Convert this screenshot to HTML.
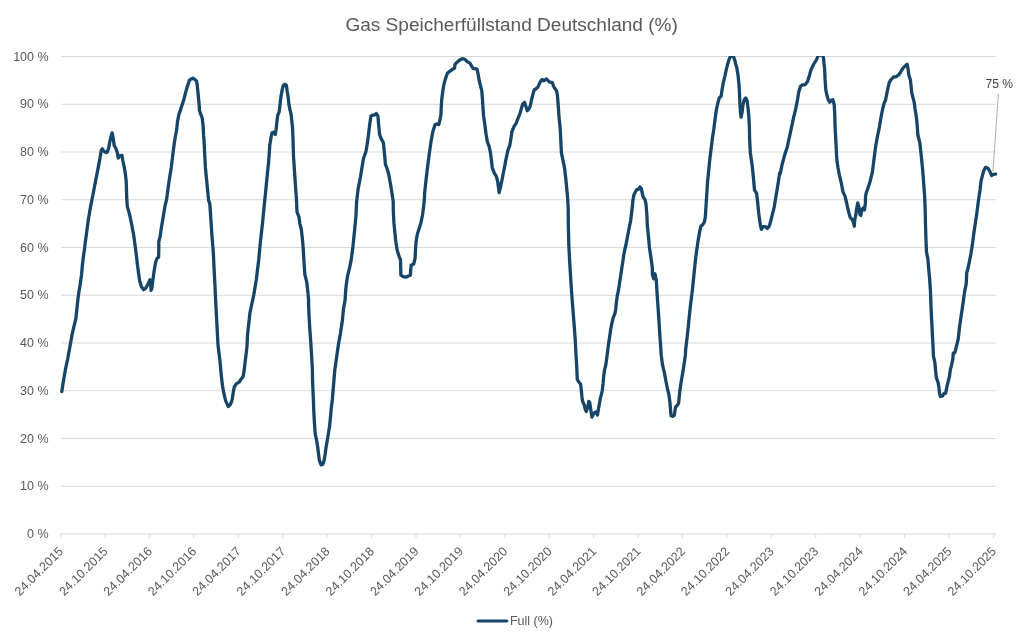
<!DOCTYPE html>
<html><head><meta charset="utf-8"><style>
html,body{margin:0;padding:0;background:#fff;}
svg{display:block;font-family:"Liberation Sans",sans-serif;will-change:transform;}
</style></head><body>
<svg width="1024" height="643" viewBox="0 0 1024 643">
<rect width="1024" height="643" fill="#fff"/>
<text x="345.4" y="31.1" font-size="18.7" textLength="332.5" lengthAdjust="spacingAndGlyphs" fill="#595959">Gas Speicherfüllstand Deutschland (%)</text>
<g shape-rendering="auto">
<line x1="61" y1="56.50" x2="996" y2="56.50" stroke="#d9d9d9" stroke-width="1"/>
<line x1="61" y1="104.25" x2="996" y2="104.25" stroke="#d9d9d9" stroke-width="1"/>
<line x1="61" y1="152.00" x2="996" y2="152.00" stroke="#d9d9d9" stroke-width="1"/>
<line x1="61" y1="199.75" x2="996" y2="199.75" stroke="#d9d9d9" stroke-width="1"/>
<line x1="61" y1="247.50" x2="996" y2="247.50" stroke="#d9d9d9" stroke-width="1"/>
<line x1="61" y1="295.25" x2="996" y2="295.25" stroke="#d9d9d9" stroke-width="1"/>
<line x1="61" y1="343.00" x2="996" y2="343.00" stroke="#d9d9d9" stroke-width="1"/>
<line x1="61" y1="390.75" x2="996" y2="390.75" stroke="#d9d9d9" stroke-width="1"/>
<line x1="61" y1="438.50" x2="996" y2="438.50" stroke="#d9d9d9" stroke-width="1"/>
<line x1="61" y1="486.25" x2="996" y2="486.25" stroke="#d9d9d9" stroke-width="1"/>
<line x1="60.6" y1="534" x2="996" y2="534" stroke="#d9d9d9" stroke-width="1"/>
<line x1="60.60" y1="534" x2="60.60" y2="538" stroke="#d9d9d9" stroke-width="1"/>
<line x1="105.02" y1="534" x2="105.02" y2="538" stroke="#d9d9d9" stroke-width="1"/>
<line x1="149.45" y1="534" x2="149.45" y2="538" stroke="#d9d9d9" stroke-width="1"/>
<line x1="193.87" y1="534" x2="193.87" y2="538" stroke="#d9d9d9" stroke-width="1"/>
<line x1="238.30" y1="534" x2="238.30" y2="538" stroke="#d9d9d9" stroke-width="1"/>
<line x1="282.72" y1="534" x2="282.72" y2="538" stroke="#d9d9d9" stroke-width="1"/>
<line x1="327.14" y1="534" x2="327.14" y2="538" stroke="#d9d9d9" stroke-width="1"/>
<line x1="371.57" y1="534" x2="371.57" y2="538" stroke="#d9d9d9" stroke-width="1"/>
<line x1="415.99" y1="534" x2="415.99" y2="538" stroke="#d9d9d9" stroke-width="1"/>
<line x1="460.41" y1="534" x2="460.41" y2="538" stroke="#d9d9d9" stroke-width="1"/>
<line x1="504.84" y1="534" x2="504.84" y2="538" stroke="#d9d9d9" stroke-width="1"/>
<line x1="549.26" y1="534" x2="549.26" y2="538" stroke="#d9d9d9" stroke-width="1"/>
<line x1="593.69" y1="534" x2="593.69" y2="538" stroke="#d9d9d9" stroke-width="1"/>
<line x1="638.11" y1="534" x2="638.11" y2="538" stroke="#d9d9d9" stroke-width="1"/>
<line x1="682.53" y1="534" x2="682.53" y2="538" stroke="#d9d9d9" stroke-width="1"/>
<line x1="726.96" y1="534" x2="726.96" y2="538" stroke="#d9d9d9" stroke-width="1"/>
<line x1="771.38" y1="534" x2="771.38" y2="538" stroke="#d9d9d9" stroke-width="1"/>
<line x1="815.80" y1="534" x2="815.80" y2="538" stroke="#d9d9d9" stroke-width="1"/>
<line x1="860.23" y1="534" x2="860.23" y2="538" stroke="#d9d9d9" stroke-width="1"/>
<line x1="904.65" y1="534" x2="904.65" y2="538" stroke="#d9d9d9" stroke-width="1"/>
<line x1="949.08" y1="534" x2="949.08" y2="538" stroke="#d9d9d9" stroke-width="1"/>
<line x1="993.50" y1="534" x2="993.50" y2="538" stroke="#d9d9d9" stroke-width="1"/>
</g>
<g font-size="12.5" fill="#595959">
<text x="48.6" y="60.50" text-anchor="end">100 %</text>
<text x="48.6" y="108.25" text-anchor="end">90 %</text>
<text x="48.6" y="156.00" text-anchor="end">80 %</text>
<text x="48.6" y="203.75" text-anchor="end">70 %</text>
<text x="48.6" y="251.50" text-anchor="end">60 %</text>
<text x="48.6" y="299.25" text-anchor="end">50 %</text>
<text x="48.6" y="347.00" text-anchor="end">40 %</text>
<text x="48.6" y="394.75" text-anchor="end">30 %</text>
<text x="48.6" y="442.50" text-anchor="end">20 %</text>
<text x="48.6" y="490.25" text-anchor="end">10 %</text>
<text x="48.6" y="538.00" text-anchor="end">0 %</text>
</g>
<g font-size="12.5" fill="#595959">
<text x="64.00" y="552.20" text-anchor="end" transform="rotate(-45 64.00 552.20)">24.04.2015</text>
<text x="108.42" y="552.20" text-anchor="end" transform="rotate(-45 108.42 552.20)">24.10.2015</text>
<text x="152.85" y="552.20" text-anchor="end" transform="rotate(-45 152.85 552.20)">24.04.2016</text>
<text x="197.27" y="552.20" text-anchor="end" transform="rotate(-45 197.27 552.20)">24.10.2016</text>
<text x="241.70" y="552.20" text-anchor="end" transform="rotate(-45 241.70 552.20)">24.04.2017</text>
<text x="286.12" y="552.20" text-anchor="end" transform="rotate(-45 286.12 552.20)">24.10.2017</text>
<text x="330.54" y="552.20" text-anchor="end" transform="rotate(-45 330.54 552.20)">24.04.2018</text>
<text x="374.97" y="552.20" text-anchor="end" transform="rotate(-45 374.97 552.20)">24.10.2018</text>
<text x="419.39" y="552.20" text-anchor="end" transform="rotate(-45 419.39 552.20)">24.04.2019</text>
<text x="463.81" y="552.20" text-anchor="end" transform="rotate(-45 463.81 552.20)">24.10.2019</text>
<text x="508.24" y="552.20" text-anchor="end" transform="rotate(-45 508.24 552.20)">24.04.2020</text>
<text x="552.66" y="552.20" text-anchor="end" transform="rotate(-45 552.66 552.20)">24.10.2020</text>
<text x="597.09" y="552.20" text-anchor="end" transform="rotate(-45 597.09 552.20)">24.04.2021</text>
<text x="641.51" y="552.20" text-anchor="end" transform="rotate(-45 641.51 552.20)">24.10.2021</text>
<text x="685.93" y="552.20" text-anchor="end" transform="rotate(-45 685.93 552.20)">24.04.2022</text>
<text x="730.36" y="552.20" text-anchor="end" transform="rotate(-45 730.36 552.20)">24.10.2022</text>
<text x="774.78" y="552.20" text-anchor="end" transform="rotate(-45 774.78 552.20)">24.04.2023</text>
<text x="819.20" y="552.20" text-anchor="end" transform="rotate(-45 819.20 552.20)">24.10.2023</text>
<text x="863.63" y="552.20" text-anchor="end" transform="rotate(-45 863.63 552.20)">24.04.2024</text>
<text x="908.05" y="552.20" text-anchor="end" transform="rotate(-45 908.05 552.20)">24.10.2024</text>
<text x="952.48" y="552.20" text-anchor="end" transform="rotate(-45 952.48 552.20)">24.04.2025</text>
<text x="996.90" y="552.20" text-anchor="end" transform="rotate(-45 996.90 552.20)">24.10.2025</text>
</g>
<defs><clipPath id="pa"><rect x="0" y="56" width="1024" height="587"/></clipPath></defs>
<polyline clip-path="url(#pa)" points="61.8,391.6 63.5,380.5 65.6,368.5 67.8,358.3 70,346.3 72.1,334.4 74.1,325.9 75.8,319 76.9,308.8 78,298.5 78.9,292 79.7,287.4 80.6,281.2 81.5,275 82.6,263 83.8,253.7 84.7,247.4 85.4,241.2 86.3,235 87.3,227.5 88.3,219.9 90.4,207.4 92.9,195 95,184 96.7,175.4 98.5,166.1 99.9,158.6 101.3,150.2 102.3,148.8 103.7,151.1 106,152.5 107.4,152.1 108.8,147.4 109.7,142.3 111.1,136.2 112.1,132.9 113,137.1 114.2,145.5 115.8,148.3 117.2,152.1 118.3,158.1 119.5,155.8 121.9,155.3 122.8,160.5 124.2,167 125.4,174 126.2,181.4 126.5,190 126.7,197.7 127.3,206.4 129.5,214.1 131.6,224 133.1,232 133.8,236 135,244.8 136.2,254.1 137.3,263.5 138.5,272.8 139.7,281 141.4,286.8 143.7,289.7 145.5,288.5 147.8,284.5 149.9,279.8 150.7,285.6 151.1,290.3 151.9,288 153.1,278.6 154.2,270.5 155.6,262.3 157.1,258.2 158.6,257.3 158.8,250 158.8,241.5 160.1,236.7 161,230.1 163.1,217.6 165.1,205.5 166.6,199.4 168.1,188.3 169.7,177.1 171.2,168 172,161.1 173.2,151.8 174.4,142.4 175.4,136.2 176.6,130 177.6,120.8 179,114.2 180.9,108.6 184,98.9 185.4,93.4 186.7,88.5 188.3,83.6 189.4,80.3 191.1,79 192.8,78.2 194.6,79.3 196.5,80.9 197.1,84.2 197.6,89.1 198.2,94.5 198.7,100 199.2,105 199.4,110.3 200.5,113.6 202.2,118 203.2,126.7 203.6,135.4 204,140 205.4,167.7 207,184 208.6,200.4 209.8,203.6 210.7,216.7 211.9,235 213.3,252.1 214.1,269.2 215,286.4 215.8,303.5 216.7,320.6 217.6,337.7 218,345 218.8,351.5 219.8,359.2 220.5,366.8 221.3,375.5 222.4,385.3 223.8,393 225.6,400.6 228.3,406.6 230.5,404.4 232.2,399.5 233.3,391.9 234.3,387 236.5,383.7 239.2,382.1 240.9,379.3 243.1,376.6 244.2,370.1 245.2,361.3 246.3,352.6 247.1,345 247.5,335 250,312.5 253.75,295 256.25,280 258.7,260 260.5,240.9 262.6,222.2 264.1,206.7 265.7,191.1 267.2,175.6 268.8,160 269.8,145.1 270.9,138.2 272,132.8 273.6,132.2 275.3,134.4 276.1,129.5 276.9,121.9 277.7,115.3 279.1,112.1 279.8,106.6 280.5,100.1 281.3,94.6 282.3,89.2 283.4,85.4 284.9,84.3 286.4,85.4 287.2,91.3 288.1,96.8 288.9,104.4 290,109.9 291.1,114.2 291.8,120.8 292.5,127.3 292.9,136 293.2,145.1 293.5,156.3 294.6,172.7 295.7,189 296.5,200 297,212 299,217.1 299.8,223.3 301.3,229.5 302.4,238.9 303.2,248.2 304,262.2 304.9,274.6 306.8,282.4 308,293.3 308.6,300 308.5,302.4 309,314.9 309.7,327.3 310.6,339.8 311.4,352.2 312.4,370 312.5,380 313.4,400 313.8,411.2 314.4,422.4 315.2,433.6 316.6,440.3 317.7,447 318.5,453.7 319.4,460.4 321.1,464.9 322.8,464.3 324.1,460.4 325.2,453.7 326.1,447 327.3,440.3 328.4,433.6 329.5,426.8 330.4,417.9 331.2,408.9 332.3,400 332.5,397.5 333.75,382.5 334.8,370 336.1,360.9 337.3,352.2 338.6,343.5 340.4,333.5 342.3,321.1 343.5,308.7 345.1,300 345.7,290 346.2,285.6 347.5,276.3 349.8,266.9 351.3,259.1 352.9,246.7 354.5,231.1 356,215.6 356.6,201.6 358.1,189.1 360.5,176.7 362,167.3 363.6,158 365.9,151.7 367.5,142.4 368.7,133 369.8,123.7 371,115.9 372.9,115.1 374.5,115.1 376.3,113.6 377.9,115.9 378.7,125.2 379.6,134.6 381.5,139.3 383.3,142.4 384.3,151.7 385.4,164.2 386.9,168.1 388.5,173.5 390,181.3 391.6,190.7 393.2,201.6 393.3,210.6 393.9,222.4 394.9,233 395.9,242.2 397.2,250.2 399.2,256.8 400.5,259.4 400.7,268.6 400.9,275.2 403.2,276.6 405.8,277.2 407.8,276.3 410.4,275.2 410.7,270 411.1,265.3 413.7,264 415.1,258.1 415.5,250.2 416,242.2 417.3,234.3 419,229 421,222.4 422.6,214.5 423.6,206.6 424.3,200 424.7,192.2 426.2,178.5 427.7,166 429.3,153.6 430.9,142.4 432.4,133.7 433.7,128.7 435.1,124.6 436.7,124 438.8,124.6 440,119.7 440.9,114.7 441.3,106 441.7,99.8 442.5,93.5 443.4,87.3 444.4,82.3 445.9,77.4 447.5,73 450,71.1 452.5,69.3 454.6,68 455,64.3 456.8,62.4 458.7,60.8 460.6,59.4 463,58.7 464.9,59.3 467.2,61.6 469.9,63.2 471.5,65.9 473.2,68.6 475.3,68.6 477,69.1 478,73.5 479.1,80 480.4,85.4 481.8,90.9 482.4,98.5 482.9,107.2 483.6,116 484.6,123 486.1,134.2 487.3,141.7 489.2,146.6 490.5,152.9 491.4,160.3 492.3,167.8 494.2,172.8 496.4,176.5 497.7,181.5 498.5,187.7 499.2,192.7 500.4,187.7 501.7,181.5 502.9,175.3 504.4,167.8 506,159.1 507.9,150.4 509.8,145.4 511,137.9 511.9,131.7 512.6,130 514.2,126.2 516.1,123.4 517.9,118.7 519.8,114 521.7,107.5 522.6,104.2 524.5,102.3 525.9,106.5 527.3,110.7 528.7,109.3 530.1,106.5 531.5,100 532.9,94.4 534.3,89.7 536.1,88.8 538,86.9 539.4,83.7 540.8,80.9 542.2,79.5 543.6,80.9 545,79.9 546.4,79 547.8,80.4 549.2,81.8 551.1,82.3 552.5,82.7 553.4,86 554.8,88.3 556.2,90.2 557.2,93.5 557.8,100 558.4,107.5 559,116.8 559.8,124.3 560.3,130 560.8,140.5 561.4,152.9 563,160.4 564.5,167.9 565.7,177.8 566.7,187.8 567.6,197.7 568.2,208 568.3,224.8 568.8,244.6 569.6,260.5 570.5,275 571.1,285 572.1,299 573.2,313 574.3,327 575.3,341 576,355 576.7,366.2 577.1,375 577.3,379.5 578.6,381.7 580.6,384.2 581.3,390.3 581.9,396.4 582.6,401.4 584.1,404.4 585.3,409.5 586.3,411.5 587.7,407.5 588.7,401.4 589.7,402.4 590.5,407.5 591.2,412.5 592,417.1 593.2,414.5 594.7,412.5 596.2,412 597.5,415.1 598.3,409.5 599.3,404.4 600.3,398.4 601.5,394.3 602.3,390.3 603.1,383.2 603.8,375.2 604.5,370.1 605.8,365 606.7,358.6 607.6,351.1 608.7,343 609.7,336.2 610.6,330 611.8,323.6 613.3,317.4 614.9,313.6 615.8,308.7 616.4,302.4 617.2,296.2 618.3,291.2 619.6,282.8 620.7,275.8 621.7,268.8 622.8,261.8 623.8,254.8 624.9,249.2 625.9,245 626.9,239.9 628.7,230.3 630.6,221 632,209.8 632.9,200.5 633.9,194.9 635.7,191.2 637.1,189.3 638.5,189.3 639.9,187 641.3,188.4 642.2,193 643.2,197.2 645,199.6 646,204.2 646.8,213.6 647.3,225 648,232 648.7,239 649.4,247.4 650.5,254.4 651.5,261.4 652.3,268 652.5,275 653.75,278.75 655,273.75 656.25,280 657.5,300 658.75,317.5 660,337.5 660.6,345 661.2,354.9 662.5,364.9 664.3,372.3 665.9,381 667.4,388.5 668.9,394.7 669.9,402.1 670.5,409.6 671.1,415.8 673,416.4 674.3,415.2 675.5,407.1 677.4,405.2 678.6,403.4 679.2,397.2 679.8,391 681.1,382.3 682.6,373.6 683.8,366.1 685.4,354.9 685.6,350.1 687,338.6 688.2,327.4 689.3,316.2 690.5,305 691.7,295.6 692.4,290.1 693.6,278.1 695,264.1 696.4,252.4 697.9,241.9 699.7,231.4 700.9,226.1 702.6,224.9 704.4,222 705.3,217.3 707.5,182.5 710,157.5 712.5,137.5 713.7,130 715,119.7 716.2,110.9 717.7,103.5 719.3,97.9 721.2,96 722.2,88.6 723.4,82.3 724.9,76.1 726.2,69.9 727.7,64 728.9,60 729.9,57.4 731.2,56.1 732.5,56.1 733.8,57.4 734.7,60 735.7,64 736.7,67.4 738,74.9 738.9,83.6 739.5,93.5 739.9,103.5 740.5,113.4 741.1,117.2 742.1,112.2 743,104.7 744.2,99.8 745.8,97.9 747.1,101 747.9,107.2 748.8,115.9 749.4,127 749.6,138.7 750.3,152.4 752,164.3 753.3,176.3 754.5,190 756.6,193.4 757.6,201.9 758.8,213.9 760.2,224.1 761.4,229.3 763.1,226.7 765.6,226.7 767.4,228.4 769.4,225.9 770.8,220.7 772.5,213.9 774.2,207.1 775.9,196.8 777.6,186.5 779.7,172.9 780.3,173.5 782.3,163.7 785,153.9 787.2,147.4 788.8,139.8 790.5,132.2 792.1,124.6 793.7,117 795.4,110.4 796.6,104.5 797.5,99.8 798.7,92.3 800.6,86.1 802.5,84.8 805,84.8 807.4,81.7 809.3,76.1 810.9,69.9 813.8,64 815.3,61.6 816.3,60 817.4,57.6 818.5,55.5 820.5,54.8 822.5,55.2 823.4,57.6 823.7,60 824.05,64 824.6,68.7 825.1,79.9 825.8,89.8 827.1,96 828.3,99.8 829.8,102.2 831.3,100.4 832.9,99.8 834.2,104.7 834.8,114.7 835,125 835.4,133 835.9,141.7 836.4,152.6 837,161.3 838,167.8 839.7,176.5 841.3,183 842.6,189.9 843.1,192.1 844.9,195.9 846.3,201.5 847.7,208 849.1,213.6 850.1,217.3 851.9,219.2 853.3,222 854.3,226.2 854.7,220.1 855.7,215.4 856.6,208.9 857.8,202.9 858.9,207.1 860,214.5 860.8,215.4 861.9,209.9 863.1,208 864.5,209.9 865.4,203.3 865.5,196.9 866.2,192.9 867.5,189.4 868.7,185.9 869.9,182 870.9,178 872.4,172 873.4,164 874.4,156 875.3,149 876.2,143.2 877.7,135.1 879.4,127.1 881,117.2 882.5,109.7 884,103.5 885.6,99.8 886.8,93.6 888.1,87.3 889.3,82.4 891.2,79.3 893.7,76.8 896.1,76.8 898.6,74.9 900.5,72.4 901.7,69.9 903.6,67.4 905.5,65.6 907.1,64.3 908,68.7 908.8,74.9 910.4,79.9 911.1,86.1 911.7,92.3 912.9,97.3 914.2,102.3 915,108.5 915.8,113.5 916.7,119.7 917.3,127.1 917.9,135 919.8,142.6 921.2,155.2 922.6,169.3 923.7,183.3 924.7,197.3 925.2,210 925.5,224 925.9,238 926.5,252.1 927.9,259.1 928.7,268.9 929.7,280.1 930.5,292 931.1,309 931.8,323 932.5,337.1 933,345.4 933.4,355.8 934.8,362.1 935.5,369.4 936.3,377.7 937.9,381.9 938.9,387.1 939.5,393.3 940.5,396.5 942.6,395.9 944.1,393.3 945.7,393.3 946.8,387.1 948.3,380.8 949.4,376.7 950.4,369.4 951.8,364.2 953,357.9 953.2,353.2 954.9,352.7 955.9,348.5 957.2,343.3 958.2,339.2 959.5,327.2 961.3,314.8 963.2,302.3 964.7,291.1 966.2,284 966.5,277.8 966.7,272.9 968.1,268 969.5,261 970.9,254 972,247 973,240 974,232 976.5,215.6 978.4,200.9 980.1,189.5 981,181.3 982.2,176.4 983.8,170.6 985.5,167.4 987.9,168.2 989.9,171.5 991.5,175.5 993.2,174.4 995.6,174.1" fill="none" stroke="#174568" stroke-width="3.3" stroke-linejoin="round" stroke-linecap="round"/>
<line x1="998.4" y1="94" x2="992.9" y2="171" stroke="#a6a6a6" stroke-width="0.9"/>
<text x="985.5" y="88.1" font-size="12.5" textLength="27.6" lengthAdjust="spacingAndGlyphs" fill="#404040">75 %</text>
<line x1="478.1" y1="621.0" x2="506.8" y2="621.0" stroke="#174568" stroke-width="3.2" stroke-linecap="round"/>
<text x="509.9" y="624.5" font-size="12.5" fill="#595959">Full (%)</text>
</svg>
</body></html>
